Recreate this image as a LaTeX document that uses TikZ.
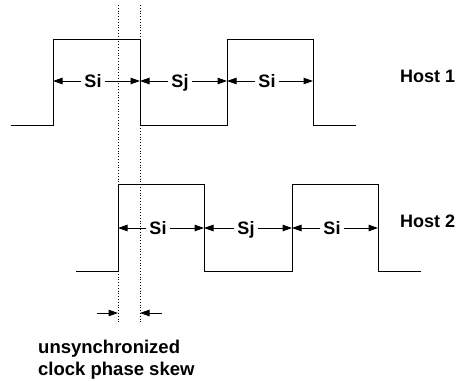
\documentclass[tikz,border=0pt]{standalone}
\usepackage{fontspec}
\setmainfont{Liberation Sans}
\usetikzlibrary{arrows.meta}
\begin{document}
\begin{tikzpicture}[x=1pt,y=-1pt,
  wave/.style={line width=1pt},
  dim/.style={line width=1pt,-{Triangle[length=9.5pt,width=6.5pt]}},
  lab/.style={font=\fontsize{18}{22}\selectfont\bfseries, text height=13pt, text depth=0pt, inner xsep=3pt, inner ysep=0pt},
  host/.style={lab, inner xsep=0pt, anchor=west},
  guide/.style={line width=0.8pt, dotted}]
\useasboundingbox (0,0) rectangle (459,381);

% Host 1 waveform
\draw[wave] (11,125) -- (53,125) -- (53,39) -- (140,39) -- (140,125)
  -- (227,125) -- (227,39) -- (313,39) -- (313,125) -- (356,125);
\coordinate (a1) at (53,81);
\coordinate (a2) at (140,81);
\coordinate (a3) at (227,81);
\coordinate (a4) at (313,81);
\node[lab] (h1si1) at (93,81) {Si};
\node[lab] (h1sj) at (180,81) {Sj};
\node[lab] (h1si2) at (267,81) {Si};
\draw[dim] (h1si1.west) -- (a1);
\draw[dim] (h1si1.east) -- (a2);
\draw[dim] (h1sj.west) -- (a2);
\draw[dim] (h1sj.east) -- (a3);
\draw[dim] (h1si2.west) -- (a3);
\draw[dim] (h1si2.east) -- (a4);
\node[host] (host1) at (400,76) {Host 1};

% Host 2 waveform
\draw[wave] (76,271) -- (118,271) -- (118,184) -- (204,184) -- (204,271)
  -- (292,271) -- (292,184) -- (378,184) -- (378,271) -- (421,271);
\coordinate (b1) at (118,228);
\coordinate (b2) at (204,228);
\coordinate (b3) at (292,228);
\coordinate (b4) at (378,228);
\node[lab] (h2si1) at (158,228) {Si};
\node[lab] (h2sj) at (246,228) {Sj};
\node[lab] (h2si2) at (332,228) {Si};
\draw[dim] (h2si1.west) -- (b1);
\draw[dim] (h2si1.east) -- (b2);
\draw[dim] (h2sj.west) -- (b2);
\draw[dim] (h2sj.east) -- (b3);
\draw[dim] (h2si2.west) -- (b3);
\draw[dim] (h2si2.east) -- (b4);
\node[host] (host2) at (400,221) {Host 2};

% dotted guides
\coordinate (d1t) at (118,5);
\coordinate (d1b) at (118,323);
\coordinate (d2t) at (140,5);
\coordinate (d2b) at (140,323);
\draw[guide] (d1t) -- (d1b);
\draw[guide] (d2t) -- (d2b);

% skew arrows
\coordinate (s1a) at (97,313);
\coordinate (s1b) at (118,313);
\coordinate (s2a) at (162,313);
\coordinate (s2b) at (140,313);
\draw[dim] (s1a) -- (s1b);
\draw[dim] (s2a) -- (s2b);

\node[font=\fontsize{18.5}{22}\selectfont\bfseries, anchor=base west, inner sep=0pt] (u1) at (38,353) {unsynchronized};
\node[font=\fontsize{18.5}{22}\selectfont\bfseries, anchor=base west, inner sep=0pt] (u2) at (38,375) {clock phase skew};
\end{tikzpicture}
\end{document}
